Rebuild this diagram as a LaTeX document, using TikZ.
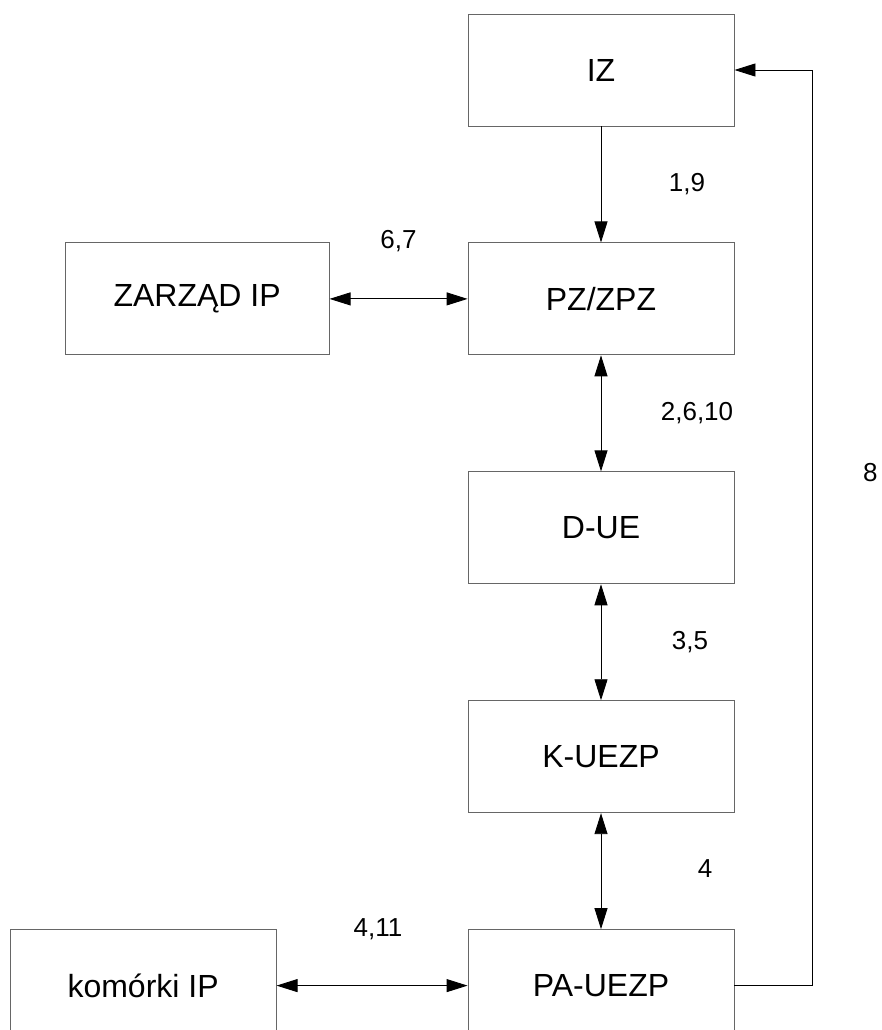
\documentclass[tikz,border=0pt]{standalone}
\usepackage{fontspec}
\setmainfont{Liberation Sans}
\usetikzlibrary{arrows.meta, positioning}

\begin{document}
\begin{tikzpicture}[
  x=1pt, y=1pt,
  box/.style={draw=black!60, line width=0.9pt, minimum width=266pt, minimum height=112pt, align=center, font=\fontsize{32}{38}\selectfont, inner sep=0pt},
  lbl/.style={font=\fontsize{26}{31}\selectfont, inner sep=0pt},
  >={Triangle[length=21pt, width=13pt]}, line width=0.9pt, node distance=116pt
]
\useasboundingbox (0,0) rectangle (882,-1030);
\node[box] (iz) at (601,-70) {IZ};
\node[box, below=of iz]    (pz)     {PZ/ZPZ};
\node[box, below=of pz]    (due)    {D-UE};
\node[box, below=of due]   (kuezp)  {K-UEZP};
\node[box, below=of kuezp] (pa)     {PA-UEZP};
\node[box, minimum width=264pt, left=138pt of pz] (zarzad)  {ZARZĄD IP};
\node[box, left=191pt of pa] (komorki) {komórki IP};

\draw[->]  (iz)    -- node[lbl, xshift=86pt] {1,9} (pz);
\draw[<->] (pz)    -- node[lbl, xshift=96pt] {2,6,10} (due);
\draw[<->] (due)   -- node[lbl, xshift=89pt] {3,5} (kuezp);
\draw[<->] (kuezp) -- node[lbl, xshift=104pt, yshift=3pt] {4} (pa);
\draw[<->] (zarzad) -- node[lbl, yshift=58pt] {6,7} (pz);
\draw[<->] (komorki) -- node[lbl, xshift=6pt, yshift=56pt] {4,11} (pa);
\draw[->]  (pa.east) -- ++(78,0) |- node[lbl, pos=0.28, xshift=58pt] {8} (iz.east);
\end{tikzpicture}
\end{document}
